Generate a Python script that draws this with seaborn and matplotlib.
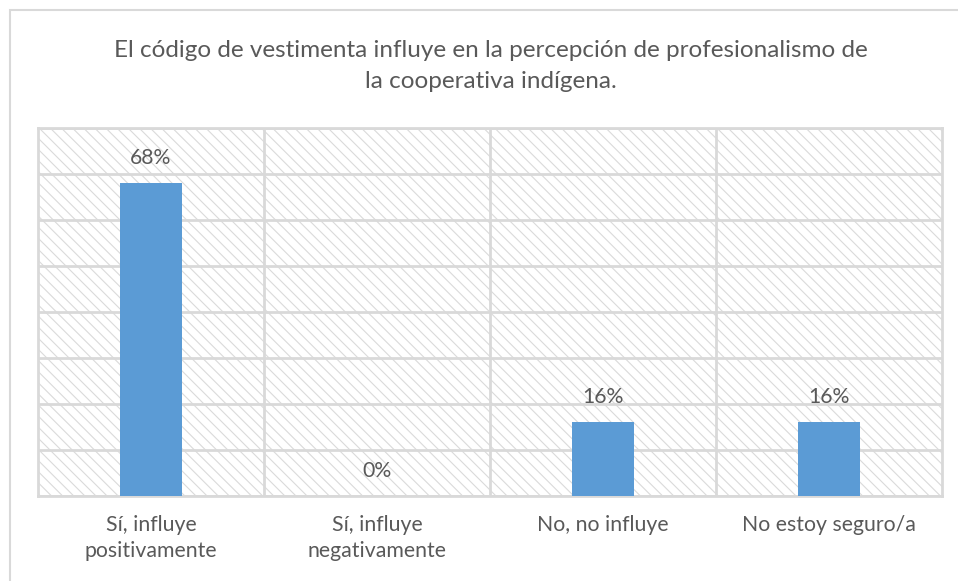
import matplotlib

matplotlib.use("Agg")
import matplotlib.pyplot as plt
import pandas as pd
import seaborn as sns
from matplotlib.patches import Rectangle

categories = ["Sí, influye\npositivamente", "Sí, influye\nnegativamente", "No, no influye", "No estoy seguro/a"]
shares = [0.68, 0.0, 0.16, 0.16]
title = "El código de vestimenta influye en la percepción de profesionalismo de\nla cooperativa indígena."

BAR = "#5B9BD5"
GRID = "#D9D9D9"
TEXT = "#595959"
HATCH = "#DADADA"

sns.set_theme(style="white")
plt.rcParams["font.family"] = ["Lato", "DejaVu Sans"]
plt.rcParams["hatch.color"] = HATCH
plt.rcParams["hatch.linewidth"] = 0.8

df = pd.DataFrame({"category": categories, "share": shares})

fig = plt.figure(figsize=(9.58, 5.81), dpi=100)
ax = fig.add_axes([38 / 958, 85 / 581, 904 / 958, 368 / 581])

# outer chart border (partially cropped in the original)
fig.patches.append(Rectangle((10 / 958, -0.1), 1.2, (581 - 10) / 581 + 0.1,
                             transform=fig.transFigure, fill=False,
                             edgecolor=GRID, linewidth=1.5))

# diagonal hatched plot background
ax.add_patch(Rectangle((0, 0), 1, 1, transform=ax.transAxes, facecolor="white",
                       edgecolor=HATCH, hatch="\\" * 3, linewidth=0.01, zorder=0))

sns.barplot(data=df, x="category", y="share", color=BAR, width=0.27,
            saturation=1, linewidth=0, ax=ax, zorder=3)

ax.set_ylim(0, 0.8)
ax.set_xlim(-0.5, 3.5)
ax.set_yticks([i / 10 for i in range(9)])
ax.set_yticklabels([])
ax.set_xticks(range(4))
ax.set_xticklabels(categories, fontsize=15.3, color=TEXT, linespacing=1.35)
ax.tick_params(axis="x", length=0, pad=14)
ax.tick_params(axis="y", length=0)
ax.grid(axis="y", color=GRID, linewidth=2, zorder=1)
for xv in [0.5, 1.5, 2.5]:
    ax.axvline(xv, color=GRID, linewidth=2, zorder=1)
for s in ax.spines.values():
    s.set_color(GRID)
    s.set_linewidth(2)
ax.set_xlabel("")
ax.set_ylabel("")

for i, v in enumerate(shares):
    ax.annotate(f"{v:.0%}", (i, v), xytext=(0, 11), textcoords="offset points",
                ha="center", va="bottom", fontsize=15.3, color=TEXT)

fig.text(491 / 958, 1 - 66 / 581, title, ha="center", va="center", fontsize=17.5,
         color=TEXT, linespacing=1.55)

fig.savefig("out.png", dpi=100, facecolor="white")
